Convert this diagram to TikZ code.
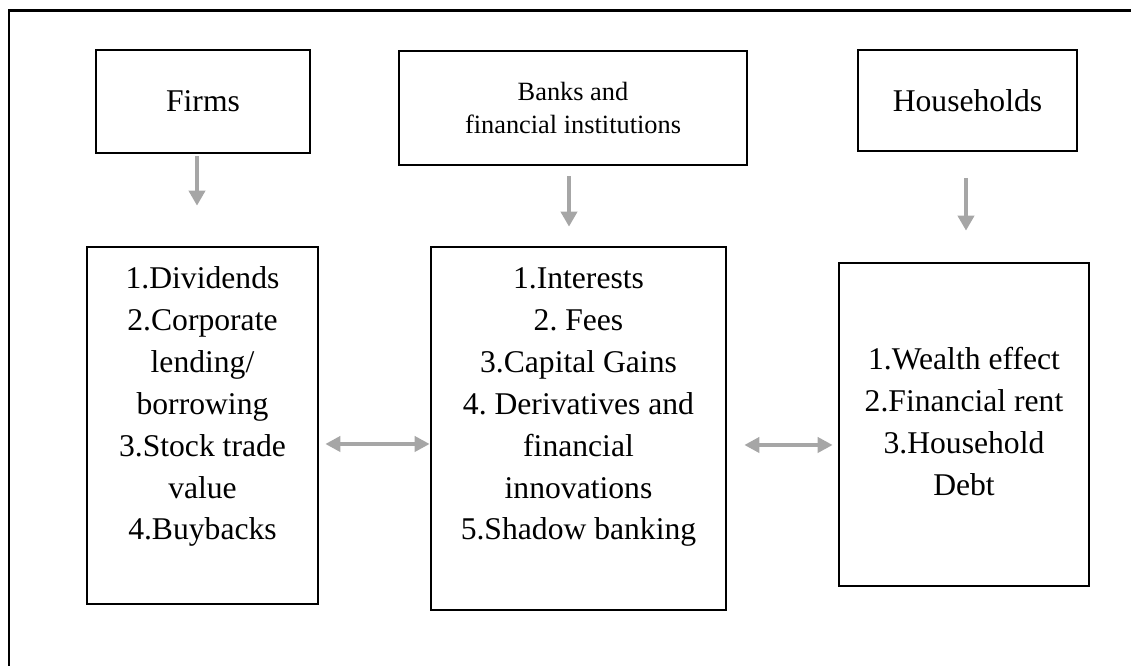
\documentclass[tikz,border=0pt]{standalone}
\usepackage{fontspec}
\setmainfont{Liberation Serif}
\usepackage{xcolor}
\usepackage{tikz}
\usetikzlibrary{arrows.meta,positioning}
\frenchspacing

\begin{document}
\begin{tikzpicture}[
    head/.style={draw=black, line width=1.5pt, minimum width=4.3cm, minimum height=2.04cm, align=center, font={\fontsize{18}{23.8}\selectfont}},
    listbox/.style={draw=black, line width=1.5pt},
    items/.style={inner sep=0pt, align=center, font={\fontsize{18}{23.8}\selectfont}},
    arr/.style={-{Triangle[length=0.3cm, width=0.32cm]}, line width=0.08cm, gray!70},
    dbl/.style={{Triangle[length=0.3cm, width=0.3cm]}-{Triangle[length=0.3cm, width=0.3cm]}, line width=0.08cm, gray!70}
]
    \useasboundingbox (0,0) rectangle (22.62,13.32);
    % outer frame (only top and left edges show)
    \draw[line width=1.7pt] (0.18,0) -- (0.18,13.10) -- (22.62,13.10);

    % sectors
    \node[head, minimum width=4.28cm, minimum height=2.06cm] (firms) at (4.06,11.29) {Firms};
    \node[head, minimum width=6.96cm, minimum height=2.28cm, font={\fontsize{15}{19.3}\selectfont}] (banks) at (11.46,11.16) {Banks and\\financial institutions};
    \node[head, minimum width=4.38cm, minimum height=2.02cm] (house) at (19.35,11.31) {Households};

    % channels
    \node[listbox, minimum width=4.62cm, minimum height=7.14cm] (firmsList) at (4.05,4.81) {};
    \node[listbox, minimum width=5.9cm, minimum height=7.26cm] (banksList) at (11.57,4.75) {};
    \node[listbox, minimum width=5.0cm, minimum height=6.46cm] (houseList) at (19.28,4.83) {};

    \node[items, below=0.42cm of firmsList.north] (firmsItems) {1.Dividends\\2.Corporate\\lending/\\borrowing\\3.Stock trade\\value\\4.Buybacks};
    \node[items, below=0.44cm of banksList.north] (banksItems) {1.Interests\\2. Fees\\3.Capital Gains\\4. Derivatives and\\financial\\innovations\\5.Shadow banking};
    \node[items, yshift=0.06cm] (houseItems) at (houseList.center) {1.Wealth effect\\2.Financial rent\\3.Household\\Debt};

    % arrows
    \draw[arr, shorten <=0.04cm, shorten >=0.8cm] ([xshift=-0.12cm]firms.south) -- ([xshift=-0.12cm]firms.south |- firmsList.north);
    \draw[arr, shorten <=0.2cm, shorten >=0.38cm] ([xshift=-0.08cm]banks.south) -- ([xshift=-0.08cm]banks.south |- banksList.north);
    \draw[arr, shorten <=0.52cm, shorten >=0.62cm] ([xshift=-0.03cm]house.south) -- ([xshift=-0.03cm]house.south |- houseList.north);
    \draw[dbl, shorten <=0.12cm] ([yshift=-0.37cm]firmsList.east) -- ([yshift=-0.37cm]firmsList.east -| banksList.west);
    \draw[dbl, shorten <=0.34cm, shorten >=0.1cm] ([yshift=-0.33cm]banksList.east) -- ([yshift=-0.33cm]banksList.east -| houseList.west);
\end{tikzpicture}
\end{document}
